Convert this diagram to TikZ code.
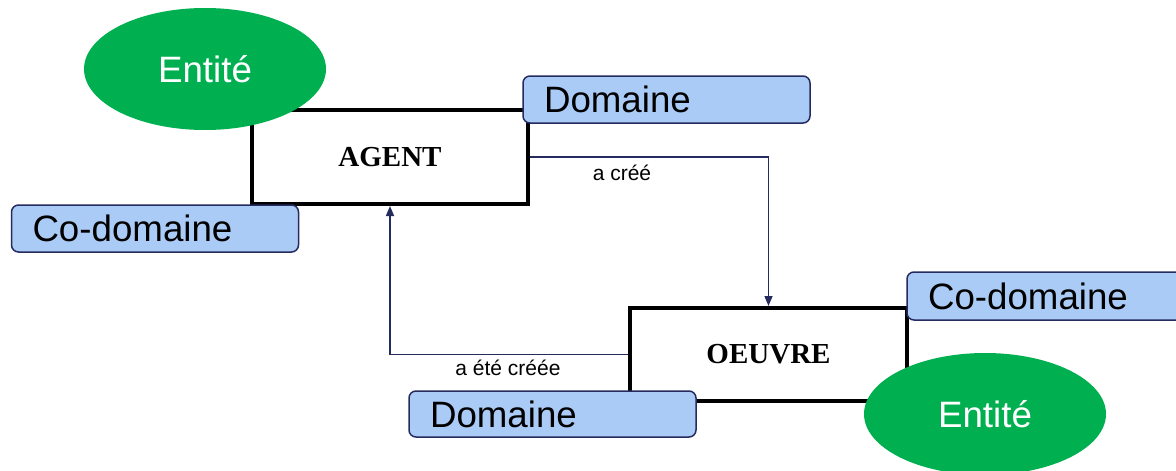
\documentclass[tikz,border=0pt]{standalone}
\usepackage{fontspec}
\setmainfont{Liberation Sans}
\newfontfamily\serifb{Liberation Serif}
\usetikzlibrary{shapes.geometric,arrows.meta}
\definecolor{entgreen}{RGB}{0,176,80}
\definecolor{domblue}{RGB}{171,203,247}
\definecolor{navy}{RGB}{38,43,94}
\tikzset{
  classbox/.style={draw=black, line width=4pt, fill=white, inner sep=0pt,
    font=\serifb\bfseries\fontsize{29}{29}\selectfont},
  entity/.style={ellipse, fill=entgreen, inner sep=0pt, minimum width=242pt,
    minimum height=122pt, text=white, font=\fontsize{36.7}{36.7}\selectfont},
  dombox/.style={draw=navy, line width=1.5pt, fill=domblue, rounded corners=7pt,
    text width=245pt, inner xsep=21pt, inner ysep=0pt, align=left,
    text height=26.3pt, text depth=0pt, font=\fontsize{36.7}{36.7}\selectfont},
  conn/.style={draw=navy, line width=1.5pt, -{Triangle[length=10pt,width=8pt]}},
  lbl/.style={inner sep=0pt, font=\fontsize{21}{21}\selectfont}
}
\begin{document}
\begin{tikzpicture}[x=1pt,y=-1pt]
\useasboundingbox (0,0) rectangle (1176,471);
% class boxes
\node[classbox, minimum width=276pt, minimum height=94pt] (agent) at (390,157) {AGENT};
\node[classbox, minimum width=277pt, minimum height=93pt] (oeuvre) at (768.5,354.5) {OEUVRE};
% connectors
\draw[conn] (agent.east) -| (oeuvre.north);
\draw[conn] (oeuvre.west) -| (agent.south);
\node[lbl] (l1) at (622,173) {a créé};
\node[lbl] (l2) at (508,368) {a été créée};
% attached elements
\node[entity] (ent1) at (205,69) {Entité};
\node[dombox, minimum height=47pt] (dom1) at (666.5,99.5) {Domaine};
\node[dombox, minimum height=47pt] (cod1) at (155,228.5) {Co-domaine};
\node[dombox, minimum height=48pt] (cod2) at (1050.5,296) {Co-domaine};
\node[dombox, minimum height=46pt] (dom2) at (552.5,414) {Domaine};
\node[entity] (ent2) at (985,414) {Entité};
\end{tikzpicture}
\end{document}
